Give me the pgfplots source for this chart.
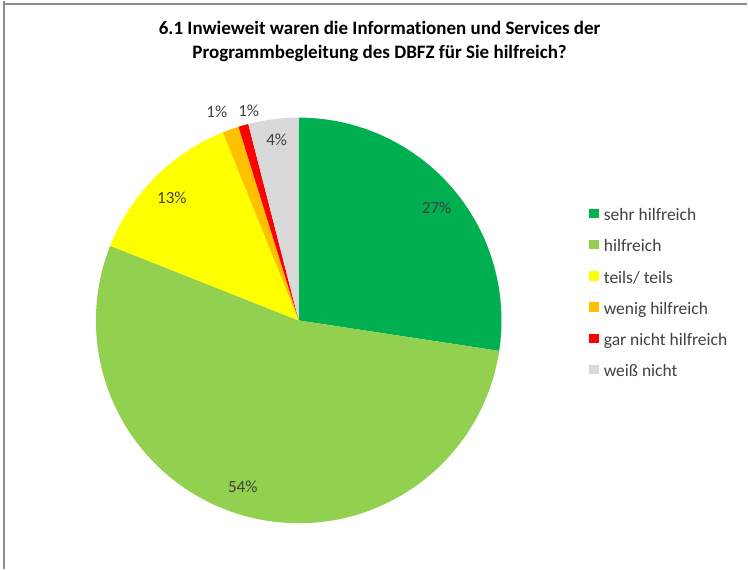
\documentclass[border=0pt]{standalone}
\usepackage{pgfplots}
\pgfplotsset{compat=1.18}
\usepackage{pgfplotstable}
\usepackage{fontspec}
\setmainfont{Carlito}[Ligatures=NoCommon]
\definecolor{c1}{HTML}{00B050}
\definecolor{c2}{HTML}{92D050}
\definecolor{c3}{HTML}{FFFF00}
\definecolor{c4}{HTML}{FFC000}
\definecolor{c5}{HTML}{FF0000}
\definecolor{c6}{HTML}{D9D9D9}
\definecolor{txt}{HTML}{404040}
\definecolor{frame}{HTML}{8C8C8C}
% value (percent), colour, printed label, label position (pixels from top-left)
\pgfplotstableread{
value col lab lx ly
27.4 c1 27 437 207
53.6 c2 54 243 487
12.9 c3 13 172 197
1.3  c4 1  217 111
0.8  c5 1  249 110
4.0  c6 4  277 139
}\piedata
\begin{document}
\begin{tikzpicture}
\begin{axis}[
  scale only axis, width=748bp, height=569bp,
  xmin=0, xmax=748, ymin=0, ymax=569, enlargelimits=false,
  hide axis, clip=false,
  legend style={at={(0.7887,0.6345)}, anchor=north west, draw=none, fill=none,
    inner sep=0pt, outer sep=0pt, row sep=15.3bp, column sep=5bp,
    font=\fontsize{17.5bp}{20bp}\selectfont, text=txt,
    nodes={inner sep=0pt, text height=12bp, text depth=4bp}},
  legend cell align=left,
  legend image code/.code={\fill[#1, draw=none] (0bp,-1.5bp) rectangle (9.5bp,8bp);},
]
\path (rel axis cs:0,0) rectangle (rel axis cs:1,1);
\def\cum{0}
\pgfplotsforeachungrouped \i in {0,...,5}{%
  \pgfplotstablegetelem{\i}{value}\of\piedata \let\v=\pgfplotsretval
  \pgfplotstablegetelem{\i}{col}\of\piedata \let\c=\pgfplotsretval
  \pgfplotstablegetelem{\i}{lab}\of\piedata \let\lab=\pgfplotsretval
  \pgfplotstablegetelem{\i}{lx}\of\piedata \let\lx=\pgfplotsretval
  \pgfplotstablegetelem{\i}{ly}\of\piedata \let\ly=\pgfplotsretval
  \pgfmathsetmacro\aa{90-3.6*\cum}%
  \pgfmathsetmacro\cum{\cum+\v}%
  \pgfmathsetmacro\bb{90-3.6*\cum}%
  \pgfmathsetmacro\lyy{569-\ly}%
  \edef\temp{\noexpand\fill[\c] (axis cs:299,249) -- ++(\aa:203bp) arc[start angle=\aa, end angle=\bb, radius=203bp] -- cycle;}%
  \temp
  \edef\temp{\noexpand\node[text=txt, font=\noexpand\fontsize{17bp}{20bp}\noexpand\selectfont, inner sep=0pt] at (axis cs:\lx,\lyy) {\lab\noexpand\%};}%
  \temp
}
\addlegendimage{fill=c1}\addlegendentry{sehr hilfreich}
\addlegendimage{fill=c2}\addlegendentry{hilfreich}
\addlegendimage{fill=c3}\addlegendentry{teils/ teils}
\addlegendimage{fill=c4}\addlegendentry{wenig hilfreich}
\addlegendimage{fill=c5}\addlegendentry{gar nicht hilfreich}
\addlegendimage{fill=c6}\addlegendentry{weiß nicht}
\node[align=center, font=\bfseries\fontsize{19bp}{24bp}\selectfont, inner sep=0pt] at (axis cs:380,528.5)
  {6.1 Inwieweit waren die Informationen und Services der\\Programmbegleitung des DBFZ für Sie hilfreich?};
\draw[frame, line width=1.5bp] (axis cs:4,569) -- (axis cs:4,565.7) -- (axis cs:748,565.7);
\draw[frame, line width=1.5bp] (axis cs:4,565.7) -- (axis cs:4,0);
\end{axis}
\end{tikzpicture}
\end{document}
